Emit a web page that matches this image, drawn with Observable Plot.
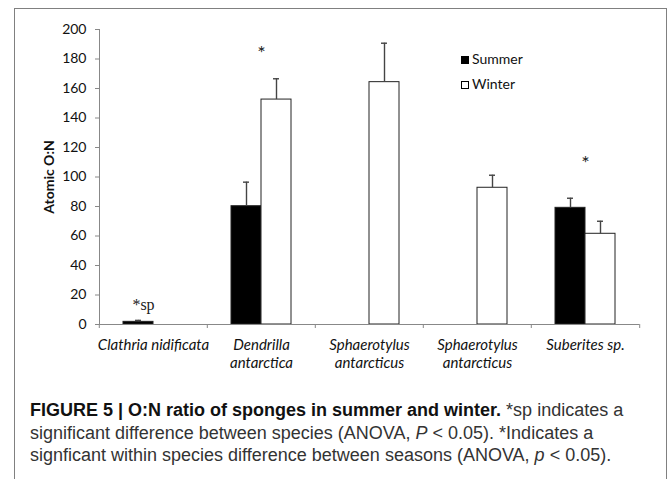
<!DOCTYPE html>
<html>
<head>
<meta charset="utf-8">
<script src="https://cdn.jsdelivr.net/npm/d3@7"></script>
<script src="https://cdn.jsdelivr.net/npm/@observablehq/plot@0.6"></script>
<style>
  html, body { margin: 0; padding: 0; background: #fff; }
  body { width: 672px; height: 479px; overflow: hidden; position: relative; font-family: Lato, sans-serif; }
  #frame { position: absolute; left: 14px; top: 8px; width: 653px; height: 520px; border: 1px solid #808080; box-sizing: border-box; }
  #chart { position: absolute; left: 0; top: 0; }
  #chart g[aria-label="y-axis label"] text { font-weight: bold; font-size: 14px; }
  #legend { position: absolute; left: 461px; top: 46px; font-family: Lato, sans-serif; font-size: 14px; color: #111; line-height: 25px; }
  #legend .sw { display: inline-block; width: 8px; height: 8px; box-sizing: border-box; border: 1px solid #000; margin-right: 3px; vertical-align: 0px; }
  #caption { position: absolute; left: 30px; top: 399px; width: 640px; font-family: "Liberation Sans", Arial, sans-serif; font-size: 18px; line-height: 22.5px; color: #333; white-space: nowrap; }
  #caption b { color: #111; }
</style>
</head>
<body>
<div id="frame"></div>
<div id="chart"></div>
<div id="legend">
  <div><span class="sw" style="background:#000"></span>Summer</div>
  <div><span class="sw" style="background:#fff"></span>Winter</div>
</div>
<div id="caption"><b>FIGURE 5 | O:N ratio of sponges in summer and winter.</b> *sp indicates a<br>significant difference between species (ANOVA, <i>P</i> &lt; 0.05). *Indicates a<br>signficant within species difference between seasons (ANOVA, <i>p</i> &lt; 0.05).</div>
<script>
// ---- data ----
const species = ["Clathria nidificata", "Dendrilla antarctica", "Sphaerotylus antarcticus", "Sphaerotylus antarcticus", "Suberites sp."];
const speciesLabels = ["Clathria nidificata", "Dendrilla\nantarctica", "Sphaerotylus\nantarcticus", "Sphaerotylus\nantarcticus", "Suberites sp."];
const seasons = ["Summer", "Winter"];
const summerValues = [1.8, 80.2, null, null, 79.1];
const summerErrors = [1.0, 16.3, null, null, 6.5];
const winterValues = [null, 152.5, 164.3, 92.7, 61.5];
const winterErrors = [null, 14.1, 26.4, 8.5, 8.5];
const yTicks = [0, 20, 40, 60, 80, 100, 120, 140, 160, 180, 200];
const annotationSpecies = [0, 1, 4];
const annotationSeason = ["Summer", null, null];
const annotationY = [13, 184, 109];
const annotationText = ["*sp", "*", "*"];

// ---- build table ----
const rows = [];
species.forEach((s, i) => {
  if (summerValues[i] != null) rows.push({i, season: "Summer", value: summerValues[i], err: summerErrors[i]});
  if (winterValues[i] != null) rows.push({i, season: "Winter", value: winterValues[i], err: winterErrors[i]});
});
const annotations = annotationText.map((t, k) => ({i: annotationSpecies[k], season: annotationSeason[k], y: annotationY[k], text: t}));

const idx = d3.range(species.length);
const mL = 98, mR = 32;
const half = (672 - mL - mR) / species.length / 2;

const chart = Plot.plot({
  width: 672,
  height: 380,
  marginLeft: mL,
  marginRight: mR,
  marginTop: 29,
  marginBottom: 56,
  style: {fontFamily: "Lato, sans-serif", fontSize: "13px", color: "#111", background: "transparent", overflow: "visible"},
  fx: {domain: idx, padding: 0, axis: null},
  x: {domain: seasons, paddingInner: 0, paddingOuter: 0.78, axis: null},
  y: {domain: [0, 200], axis: null},
  color: {domain: seasons, range: ["#000000", "#ffffff"]},
  marks: [
    Plot.frame({anchor: "left", facet: "super", stroke: "#888"}),
    Plot.axisY({ticks: yTicks, tickSize: 4, tickPadding: 9, stroke: "#888", fill: "#111", label: "Atomic O:N", labelAnchor: "center", labelOffset: 55, labelArrow: "none", fontSize: 14}),
    Plot.axisFx({anchor: "bottom", ticks: idx, tickSize: 0, tickPadding: 13, tickFormat: i => speciesLabels[i], fontStyle: "italic", fontSize: 15, lineHeight: 1.2, label: null}),
    Plot.axisFx({anchor: "bottom", ticks: idx, tickSize: 4, tickFormat: () => "", dx: -half, stroke: "#888", label: null}),
    Plot.axisFx({anchor: "bottom", ticks: [idx[idx.length - 1]], tickSize: 4, tickFormat: () => "", dx: half, stroke: "#888", label: null}),
    Plot.barY(rows, {fx: "i", x: "season", y: "value", fill: "season", stroke: "#222", strokeWidth: 1}),
    Plot.ruleX(rows, {fx: "i", x: "season", y1: "value", y2: d => d.value + d.err, stroke: "#444", strokeWidth: 1.4}),
    Plot.tickY(rows, {fx: "i", x: "season", y: d => d.value + d.err, insetLeft: 12, insetRight: 12, stroke: "#444", strokeWidth: 1.4}),
    Plot.ruleY([0], {stroke: "#888"}),
    Plot.text(annotations.filter(d => d.season), {fx: "i", x: "season", y: "y", text: "text", dx: 5, fontFamily: "'Liberation Serif', serif", fontSize: 16, fill: "#222"}),
    Plot.text(annotations.filter(d => !d.season), {fx: "i", y: "y", text: "text", fontSize: 20, fill: "#222"})
  ]
});
document.getElementById("chart").appendChild(chart);
</script>
</body>
</html>
